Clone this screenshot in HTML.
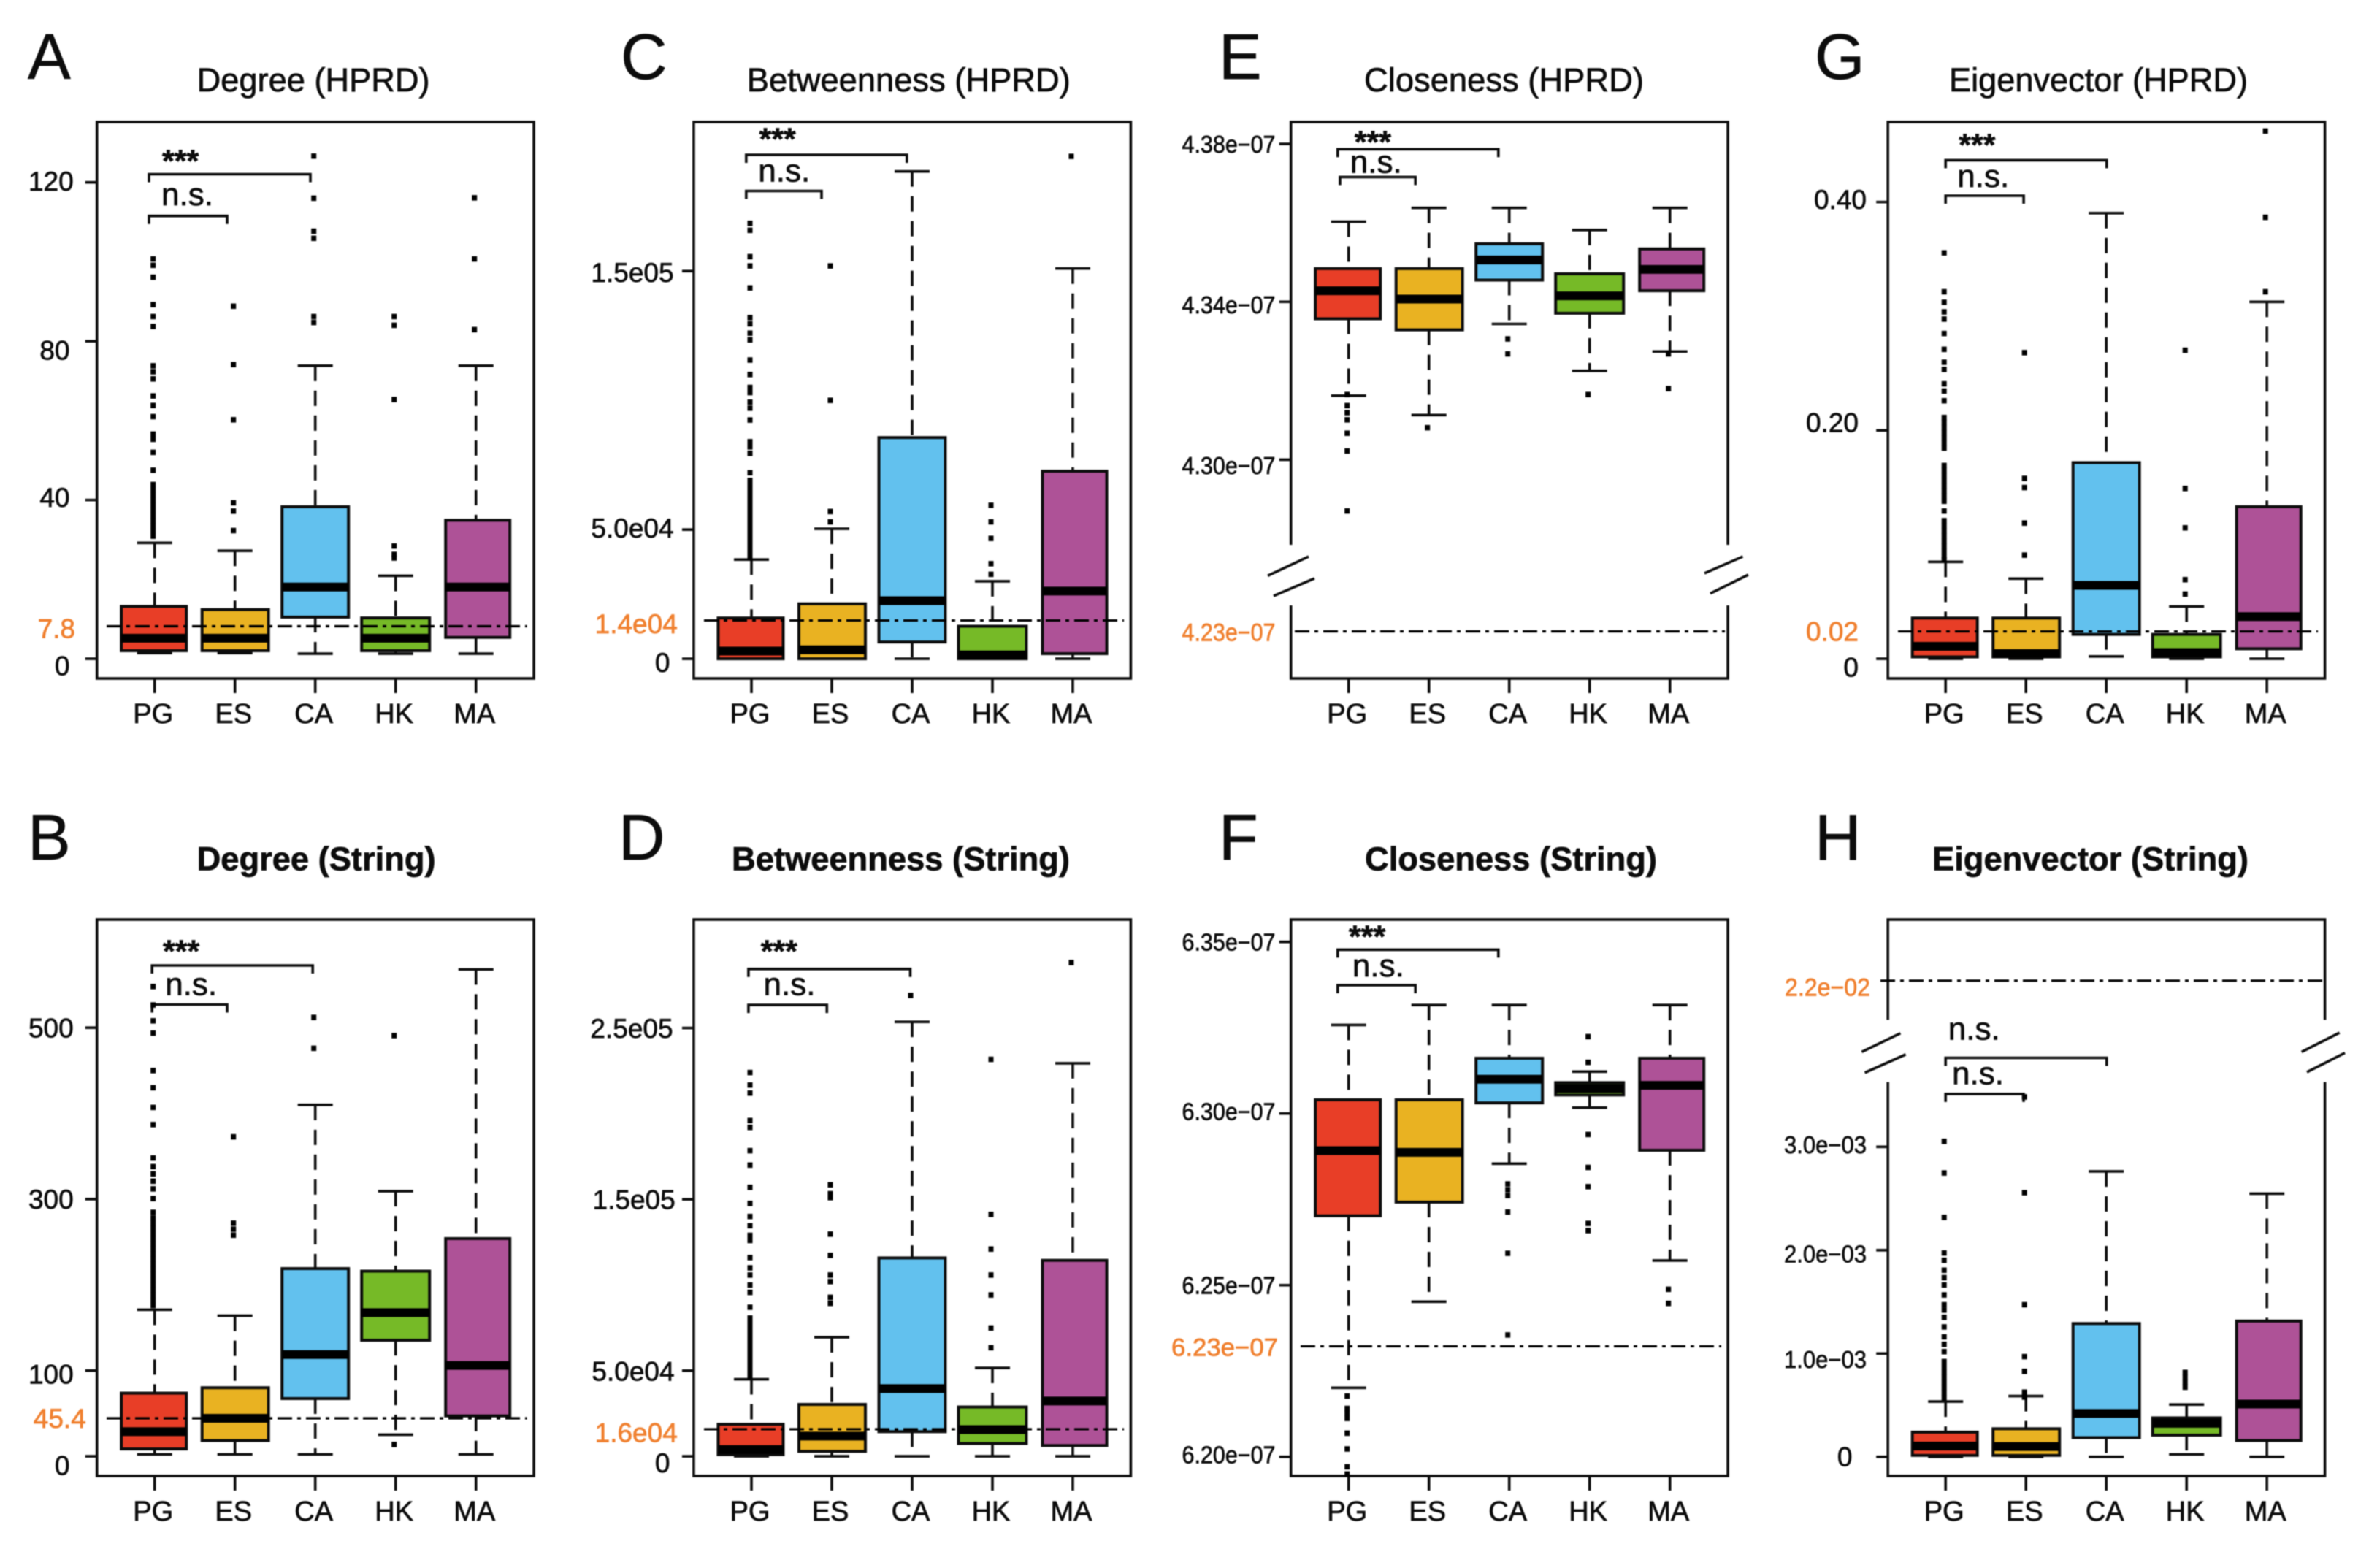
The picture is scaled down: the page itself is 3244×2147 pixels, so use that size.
<!DOCTYPE html>
<html lang="en">
<head>
<meta charset="utf-8">
<title>Network centrality box plots</title>
<style>
  html, body { margin: 0; padding: 0; background: #fff; }
  #chart-canvas { display: block; font-family: "Liberation Sans", Arial, sans-serif; filter: blur(0.8px); }
  #chart-canvas text { stroke: currentColor; stroke-width: 0.7px; }
</style>
</head>
<body>
<svg id="chart-canvas" xmlns="http://www.w3.org/2000/svg" width="3244" height="2147" viewBox="0 0 3244 2147">
  <rect x="0" y="0" width="3244" height="2147" fill="#fff"></rect>
</svg>
<script>
/* ---------- shared categories ---------- */
const categories = ['PG', 'ES', 'CA', 'HK', 'MA'];

/* ---------- A: Degree (HPRD) ---------- */
const degreeHprdTicks = [120, 80, 40, 0];
const degreeHprdTickLabels = ['120', '80', '40', '0'];
const degreeHprdRef = 8.2;
const degreeHprdRefLabel = '7.8';
const degreeHprdWhiskerHigh = [29.2, 27.2, 73.8, 20.9, 73.8];
const degreeHprdQ3 = [13.2, 12.4, 38.3, 10.3, 34.9];
const degreeHprdMedian = [5.2, 5.2, 18.1, 5.2, 18.1];
const degreeHprdQ1 = [2.05, 2.05, 10.5, 2.05, 5.4];
const degreeHprdWhiskerLow = [1.45, 1.45, 1.3, 1.3, 1.3];
const degreeHprdOutliers = [
  [100.7, 99.1, 96.1, 89.2, 86.2, 83.7, 73.8, 72.3, 70.5, 66.2, 63.8, 61, 56.6, 55.3, 52, 47.5, 43.9, 42.6, 41.3, 40, 38.7, 37.4, 36.1, 34.8, 33.5, 32.2, 30.9],
  [88.8, 74.1, 60.2, 39.3, 37.2, 32.3],
  [126.6, 116, 107.7, 105.9, 86.2, 84.7],
  [86.2, 84, 65.3, 28.4, 26.3, 25.4],
  [116.1, 100.7, 82.9]
];

/* ---------- B: Degree (String) ---------- */
const degreeStringTicks = [500, 300, 100, 0];
const degreeStringTickLabels = ['500', '300', '100', '0'];
const degreeStringRef = 44.4;
const degreeStringRefLabel = '45.4';
const degreeStringWhiskerHigh = [171, 164, 410, 309.3, 568];
const degreeStringQ3 = [73.7, 80, 219, 216, 254];
const degreeStringMedian = [28.8, 44.4, 118.7, 167.6, 106];
const degreeStringQ1 = [8.6, 18.4, 67.4, 135.4, 47.2];
const degreeStringWhiskerLow = [2.3, 2.3, 2.3, 25.3, 2.3];
const degreeStringOutliers = [
  [548, 526.5, 508, 493.7, 450, 430, 407, 387, 348, 338, 329.5, 321, 312, 300.7, 284.6, 278, 272, 266, 260, 254, 248, 242, 236, 230, 224, 218, 212, 206, 200, 194, 188, 182, 176],
  [372.7, 272, 265, 258],
  [512, 476],
  [490.8, 13.8],
  []
];

/* ---------- C: Betweenness (HPRD), values in units of 1e4 ---------- */
const betweennessHprdTicks = [15, 5, 0];
const betweennessHprdTickLabels = ['1.5e05', '5.0e04', '0'];
const betweennessHprdRef = 1.485;
const betweennessHprdRefLabel = '1.4e04';
const betweennessHprdWhiskerHigh = [3.84, 5.03, 18.86, 3.0, 15.1];
const betweennessHprdQ3 = [1.58, 2.13, 8.56, 1.26, 7.26];
const betweennessHprdMedian = [0.3, 0.35, 2.25, 0.15, 2.62];
const betweennessHprdQ1 = [0, 0, 0.65, 0, 0.2];
const betweennessHprdWhiskerLow = [0, 0, 0, 0, 0];
const betweennessHprdOutliers = [
  [16.85, 16.58, 15.56, 15.2, 14.35, 13.2, 12.96, 12.6, 12.34, 11.56, 11, 10.5, 10.3, 9.93, 9.7, 9.24, 8.4, 8.2, 7.95, 7.2, 6.9, 6.7, 6.5, 6.3, 6.1, 5.9, 5.7, 5.5, 5.3, 5.1, 4.9, 4.7, 4.5, 4.3, 4.1, 3.9],
  [15.2, 10.0, 5.7, 5.3],
  [],
  [5.94, 5.3, 4.66, 3.68, 3.27],
  [19.44]
];

/* ---------- D: Betweenness (String), values in units of 1e4 ---------- */
const betweennessStringTicks = [25, 15, 5, 0];
const betweennessStringTickLabels = ['2.5e05', '1.5e05', '5.0e04', '0'];
const betweennessStringRef = 1.585;
const betweennessStringRefLabel = '1.6e04';
const betweennessStringWhiskerHigh = [4.5, 6.95, 25.36, 5.16, 22.94];
const betweennessStringQ3 = [1.87, 3.03, 11.58, 2.88, 11.44];
const betweennessStringMedian = [0.4, 1.18, 3.95, 1.56, 3.23];
const betweennessStringQ1 = [0.1, 0.29, 1.44, 0.75, 0.63];
const betweennessStringWhiskerLow = [0, 0, 0, 0, 0];
const betweennessStringOutliers = [
  [22.4, 21.67, 21.2, 19.6, 19.2, 17.84, 17, 15.7, 14.76, 14, 13.46, 12.9, 12.6, 11.6, 11, 10.58, 10, 9.57, 8.7, 8.07, 7.84, 7.55, 7.26, 6.97, 6.69, 6.4, 6.11, 5.82, 5.53, 5.25, 4.96, 4.67],
  [15.85, 15.33, 15.1, 12.97, 11.73, 10.58, 10.2, 9.28, 8.93],
  [26.9],
  [23.17, 14.12, 12.1, 10.58, 9.42, 7.49, 6.34],
  [28.82]
];

/* ---------- E: Closeness (HPRD), values in units of 1e-7 ---------- */
const closenessHprdTicks = [4.38, 4.34, 4.30];
const closenessHprdTickLabels = ['4.38e\u221207', '4.34e\u221207', '4.30e\u221207'];
const closenessHprdRef = 4.23;
const closenessHprdRefLabel = '4.23e\u221207';
const closenessHprdWhiskerHigh = [4.3603, 4.3638, 4.3638, 4.3582, 4.3638];
const closenessHprdQ3 = [4.3484, 4.3484, 4.3547, 4.3471, 4.3534];
const closenessHprdMedian = [4.3428, 4.3407, 4.3506, 4.3415, 4.3482];
const closenessHprdQ1 = [4.3357, 4.3329, 4.3455, 4.3371, 4.3428];
const closenessHprdWhiskerLow = [4.3162, 4.3113, 4.3344, 4.3225, 4.3274];
const closenessHprdOutliers = [
  [4.3165, 4.3137, 4.3119, 4.3101, 4.3067, 4.3022, 4.287],
  [4.3081],
  [4.3306, 4.3268],
  [4.3165],
  [4.3268, 4.318]
];

/* ---------- F: Closeness (String), values in units of 1e-7 ---------- */
const closenessStringTicks = [6.35, 6.30, 6.25, 6.20];
const closenessStringTickLabels = ['6.35e\u221207', '6.30e\u221207', '6.25e\u221207', '6.20e\u221207'];
const closenessStringRef = 6.2322;
const closenessStringRefLabel = '6.23e\u221207';
const closenessStringWhiskerHigh = [6.3258, 6.3316, 6.3316, 6.3122, 6.3316];
const closenessStringQ3 = [6.304, 6.304, 6.3161, 6.309, 6.3161];
const closenessStringMedian = [6.2892, 6.2887, 6.31, 6.3073, 6.3082];
const closenessStringQ1 = [6.2702, 6.2742, 6.3031, 6.3054, 6.2893];
const closenessStringWhiskerLow = [6.2201, 6.2452, 6.2854, 6.3017, 6.2572];
const closenessStringOutliers = [
  [6.2177, 6.2141, 6.2127, 6.2112, 6.2069, 6.2023, 6.1971, 6.195],
  [],
  [6.2795, 6.2778, 6.2761, 6.2713, 6.2593, 6.2355],
  [6.3224, 6.3149, 6.2939, 6.2843, 6.2787, 6.268, 6.2659],
  [6.2488, 6.2447]
];

/* ---------- G: Eigenvector (HPRD) ---------- */
const eigenHprdTicks = [0.40, 0.20, 0];
const eigenHprdTickLabels = ['0.40', '0.20', '0'];
const eigenHprdRef = 0.024;
const eigenHprdRefLabel = '0.02';
const eigenHprdWhiskerHigh = [0.0849, 0.0702, 0.3903, 0.0458, 0.3126];
const eigenHprdQ3 = [0.0357, 0.0357, 0.1718, 0.0214, 0.1332];
const eigenHprdMedian = [0.0109, 0.0046, 0.0643, 0.0055, 0.037];
const eigenHprdQ1 = [0.0017, 0.0017, 0.0214, 0.0017, 0.0088];
const eigenHprdWhiskerLow = [0, 0, 0.0021, 0, 0];
const eigenHprdOutliers = [
  [0.3555, 0.3214, 0.3122, 0.3038, 0.2975, 0.2849, 0.271, 0.2597, 0.2534, 0.2408, 0.2345, 0.226, 0.2113, 0.207, 0.2025, 0.198, 0.1935, 0.189, 0.1845, 0.1693, 0.165, 0.1605, 0.156, 0.1515, 0.147, 0.1425, 0.138, 0.1294, 0.121, 0.1165, 0.112, 0.1075, 0.103, 0.0985, 0.094, 0.0895, 0.087],
  [0.2681, 0.158, 0.15, 0.1189, 0.0908],
  [],
  [0.2702, 0.1492, 0.1147, 0.0693, 0.0567],
  [0.4622, 0.3866, 0.3214]
];

/* ---------- H: Eigenvector (String), values in units of 1e-3 ---------- */
const eigenStringTicks = [3, 2, 1, 0];
const eigenStringTickLabels = ['3.0e\u221203', '2.0e\u221203', '1.0e\u221203', '0'];
const eigenStringRef = 22;
const eigenStringRefLabel = '2.2e\u221202';
const eigenStringWhiskerHigh = [0.535, 0.588, 2.762, 0.506, 2.547];
const eigenStringQ3 = [0.239, 0.272, 1.29, 0.377, 1.314];
const eigenStringMedian = [0.105, 0.1, 0.42, 0.325, 0.511];
const eigenStringQ1 = [0.014, 0.014, 0.186, 0.21, 0.158];
const eigenStringWhiskerLow = [0, 0, 0, 0.024, 0];
const eigenStringOutliers = [
  [3.053, 2.747, 2.317, 1.973, 1.902, 1.806, 1.734, 1.663, 1.567, 1.472, 1.42, 1.35, 1.257, 1.161, 1.089, 1.018, 0.922, 0.87, 0.82, 0.77, 0.72, 0.67, 0.62, 0.57],
  [3.483, 2.556, 1.472, 0.97, 0.827, 0.626, 0.578],
  [],
  [0.817, 0.769, 0.721, 0.674],
  []
];

/* ---------- layout (no data below this line) ---------- */
const boxColors = ['#E83E27', '#E9B222', '#62C1EE', '#76BA27', '#AE5297'];
const boxOffsets = [-1, 0.5, 0, 0, 2.5];
const boxWidths = [89, 91, 91, 93, 88];
const refColor = '#F0802F';
const inkColor = '#0c0c0c';

const panels = [
  { id: 'degree-hprd', letter: 'A', letterX: 38, letterY: 108, title: 'Degree (HPRD)', bold: false, titleX: 269.6, titleLen: 319, titleY: 125,
    left: 132.7, top: 167, anchorValue: 0, anchorY: 902.1, ppu: 5.437,
    ticks: degreeHprdTicks, tickLabels: degreeHprdTickLabels, labelRight: [100.7, 95.5, 95.5, 95.5], labelDy: [-2, 12, -4, 9], labelSize: 37,
    ref: degreeHprdRef, refLabel: degreeHprdRefLabel, refFrom: 146, refTo: 721.6, refRight: 103, refDy: 3,
    whiskerHigh: degreeHprdWhiskerHigh, q3: degreeHprdQ3, median: degreeHprdMedian, q1: degreeHprdQ1, whiskerLow: degreeHprdWhiskerLow, outliers: degreeHprdOutliers,
    brackets: [[204, 425, 238.5], [204, 311, 295.7]], notes: [['***', 222, 235], ['n.s.', 221, 281]] },
  { id: 'degree-string', letter: 'B', letterX: 38, letterY: 1177, title: 'Degree (String)', bold: true, titleX: 269.6, titleLen: 327, titleY: 1191.6,
    left: 132.7, top: 1259, anchorValue: 0, anchorY: 1994.1, ppu: 1.1738,
    ticks: degreeStringTicks, tickLabels: degreeStringTickLabels, labelRight: [100.7, 100.7, 100.7, 95.5], labelDy: [0, 0, 4.7, 12], labelSize: 37,
    ref: degreeStringRef, refLabel: degreeStringRefLabel, refFrom: 146, refTo: 721.6, refRight: 117.8, refDy: 0,
    whiskerHigh: degreeStringWhiskerHigh, q3: degreeStringQ3, median: degreeStringMedian, q1: degreeStringQ1, whiskerLow: degreeStringWhiskerLow, outliers: degreeStringOutliers,
    brackets: [[208.2, 428.2, 1322], [208.2, 311, 1375.5]], notes: [['***', 223, 1317], ['n.s.', 226.2, 1362.6]] },
  { id: 'betweenness-hprd', letter: 'C', letterX: 850, letterY: 108, title: 'Betweenness (HPRD)', bold: false, titleX: 1022.8, titleLen: 443, titleY: 125,
    left: 950, top: 167, anchorValue: 0, anchorY: 902.1, ppu: 35.39,
    ticks: betweennessHprdTicks, tickLabels: betweennessHprdTickLabels, labelRight: [922.6, 922.6, 917.4], labelDy: [1.3, -2.6, 4.6], labelSize: 37,
    ref: betweennessHprdRef, refLabel: betweennessHprdRefLabel, refFrom: 964, refTo: 1539, refRight: 927.8, refDy: 4.6,
    whiskerHigh: betweennessHprdWhiskerHigh, q3: betweennessHprdQ3, median: betweennessHprdMedian, q1: betweennessHprdQ1, whiskerLow: betweennessHprdWhiskerLow, outliers: betweennessHprdOutliers,
    brackets: [[1021.8, 1241.8, 212], [1021.8, 1125, 261.5]], notes: [['***', 1039.6, 205], ['n.s.', 1038.3, 248.4]] },
  { id: 'betweenness-string', letter: 'D', letterX: 847, letterY: 1177, title: 'Betweenness (String)', bold: true, titleX: 1002, titleLen: 463, titleY: 1191.6,
    left: 950, top: 1259, anchorValue: 0, anchorY: 1994.1, ppu: 23.46,
    ticks: betweennessStringTicks, tickLabels: betweennessStringTickLabels, labelRight: [921.6, 924.7, 923.6, 917.4], labelDy: [0, 0, 0.7, 8.8], labelSize: 37,
    ref: betweennessStringRef, refLabel: betweennessStringRefLabel, refFrom: 964, refTo: 1539, refRight: 927.8, refDy: 4.7,
    whiskerHigh: betweennessStringWhiskerHigh, q3: betweennessStringQ3, median: betweennessStringMedian, q1: betweennessStringQ1, whiskerLow: betweennessStringWhiskerLow, outliers: betweennessStringOutliers,
    brackets: [[1024.9, 1246.5, 1326.8], [1024.9, 1132.3, 1376.1]], notes: [['***', 1041.7, 1317], ['n.s.', 1045.5, 1362.6]] },
  { id: 'closeness-hprd', letter: 'E', letterX: 1669, letterY: 108, title: 'Closeness (HPRD)', bold: false, titleX: 1868, titleLen: 383, titleY: 125,
    left: 1767.7, top: 167, anchorValue: 4.30, anchorY: 629.4, ppu: 5404, labelLength: 128, refLength: 128,
    ticks: closenessHprdTicks, tickLabels: closenessHprdTickLabels, labelRight: [1746.5, 1746.5, 1746.5], labelDy: [0, 4, 8], labelSize: 33,
    ref: closenessHprdRef, refLabel: closenessHprdRefLabel, refFrom: 1773, refTo: 2362, refRight: 1746.5, refDy: 0,
    breakValue: 4.28, breakSide: -1, breakShift: -143.2, band: [746, 829],
    breakMarks: [[1736, 788.4, 1792, 762], [1744, 816, 1800, 792], [2334, 785, 2386.5, 762], [2342, 812.6, 2394, 787]],
    whiskerHigh: closenessHprdWhiskerHigh, q3: closenessHprdQ3, median: closenessHprdMedian, q1: closenessHprdQ1, whiskerLow: closenessHprdWhiskerLow, outliers: closenessHprdOutliers,
    brackets: [[1831.8, 2051.8, 204.3], [1834.9, 1938.2, 242.4]], notes: [['***', 1854.8, 209], ['n.s.', 1848.8, 236.5]] },
  { id: 'closeness-string', letter: 'F', letterX: 1669, letterY: 1177, title: 'Closeness (String)', bold: true, titleX: 1869, titleLen: 400, titleY: 1191.6,
    left: 1767.7, top: 1259, anchorValue: 6.20, anchorY: 1994.8, ppu: 4701, labelLength: 128, refLength: 146,
    ticks: closenessStringTicks, tickLabels: closenessStringTickLabels, labelRight: [1746.5, 1746.5, 1746.5, 1746.5], labelDy: [0, -3, 0, -3], labelSize: 33,
    ref: closenessStringRef, refLabel: closenessStringRefLabel, refFrom: 1781, refTo: 2357, refRight: 1750, refDy: 0,
    whiskerHigh: closenessStringWhiskerHigh, q3: closenessStringQ3, median: closenessStringMedian, q1: closenessStringQ1, whiskerLow: closenessStringWhiskerLow, outliers: closenessStringOutliers,
    brackets: [[1831.8, 2051.8, 1300.4], [1831.8, 1938.2, 1349]], notes: [['***', 1847, 1297], ['n.s.', 1851.9, 1337]] },
  { id: 'eigenvector-hprd', letter: 'G', letterX: 2485, letterY: 108, title: 'Eigenvector (HPRD)', bold: false, titleX: 2669, titleLen: 409, titleY: 125,
    left: 2585.2, top: 167, anchorValue: 0, anchorY: 902.1, ppu: 1563.7,
    ticks: eigenHprdTicks, tickLabels: eigenHprdTickLabels, labelRight: [2556, 2545, 2545], labelDy: [-4, -11, 11], labelSize: 37,
    ref: eigenHprdRef, refLabel: eigenHprdRefLabel, refFrom: 2599, refTo: 3174, refRight: 2545, refDy: 0,
    whiskerHigh: eigenHprdWhiskerHigh, q3: eigenHprdQ3, median: eigenHprdMedian, q1: eigenHprdQ1, whiskerLow: eigenHprdWhiskerLow, outliers: eigenHprdOutliers,
    brackets: [[2664.2, 2884.8, 219.4], [2664.2, 2771.1, 268]], notes: [['***', 2682.3, 213], ['n.s.', 2680.3, 256.2]] },
  { id: 'eigenvector-string', letter: 'H', letterX: 2485, letterY: 1177, title: 'Eigenvector (String)', bold: true, titleX: 2646, titleLen: 433, titleY: 1191.6,
    left: 2585.2, top: 1259, anchorValue: 0, anchorY: 1994.8, ppu: 141.5, labelLength: 113, refLength: 117,
    ticks: eigenStringTicks, tickLabels: eigenStringTickLabels, labelRight: [2556, 2556, 2556, 2536.4], labelDy: [-3, 5, 8, 1], labelSize: 33,
    ref: eigenStringRef, refLabel: eigenStringRefLabel, refFrom: 2575, refTo: 3183, refRight: 2561, refDy: 8,
    breakValue: 5, breakSide: 1, breakShift: 2461, band: [1396.4, 1481.6],
    breakMarks: [[2549.4, 1440.4, 2602.4, 1414.7], [2553.6, 1468.8, 2609.6, 1443.8], [3151.7, 1440.4, 3203.6, 1414], [3159, 1468, 3211, 1441.7]],
    whiskerHigh: eigenStringWhiskerHigh, q3: eigenStringQ3, median: eigenStringMedian, q1: eigenStringQ1, whiskerLow: eigenStringWhiskerLow, outliers: eigenStringOutliers,
    brackets: [[2664.2, 2884.8, 1448.5], [2664.2, 2771, 1497.9]], notes: [['n.s.', 2667.8, 1423.5], ['n.s.', 2673, 1484.3]] }
];

const frameWidth = 598.4;
const frameHeight = 762;
const firstCenter = 79;
const centerStep = 110;
const lineWeight = 3.6;
const canvas = document.getElementById('chart-canvas');

function make(parent, tag, attrs, text) {
  const el = document.createElementNS('http://www.w3.org/2000/svg', tag);
  Object.keys(attrs).forEach(function (k) { el.setAttribute(k, attrs[k]); });
  if (text !== undefined) el.textContent = text;
  parent.appendChild(el);
  return el;
}

/* axis function: data value to pixel, with optional axis break */
function axisY(p, v) {
  let y = p.anchorY - (v - p.anchorValue) * p.ppu;
  if (p.breakSide && (v - p.breakValue) * p.breakSide > 0) y += p.breakShift;
  return y;
}
function axisX(p, i) {
  return p.left + firstCenter + centerStep * i;
}

panels.forEach(function (p) {
  const bottom = p.top + frameHeight;
  const right = p.left + frameWidth;

  const g = make(canvas, 'g', {});
  
  

  const letter = make(g, 'text', { x: p.letterX, y: p.letterY, 'font-size': 88, fill: inkColor, color: inkColor }, p.letter);
  
  

  const title = make(g, 'text', { x: p.titleX, y: p.titleY, 'font-size': 45, 'font-weight': p.bold ? 700 : 400, fill: inkColor, color: inkColor, textLength: p.titleLen, lengthAdjust: 'spacingAndGlyphs' }, p.title);
  
  

  const frame = make(g, 'rect', { x: p.left, y: p.top, width: frameWidth, height: frameHeight, fill: 'none', stroke: inkColor, 'stroke-width': lineWeight });
  
  

  if (p.band) {
    const band = make(g, 'rect', { x: p.left - 6, y: p.band[0], width: frameWidth + 12, height: p.band[1] - p.band[0], fill: '#fff' });
    
    
    p.breakMarks.forEach(function (m) {
      const mark = make(g, 'line', { x1: m[0], y1: m[1], x2: m[2], y2: m[3], stroke: inkColor, 'stroke-width': lineWeight });
      
      
    });
  }

  /* y ticks and labels */
  p.ticks.forEach(function (t, i) {
    const y = axisY(p, t);
    const tick = make(g, 'line', { x1: p.left - 16, x2: p.left, y1: y, y2: y, stroke: inkColor, 'stroke-width': lineWeight });
    
    
    const isLong = p.labelLength && p.tickLabels[i] !== '0';
    const attrs = { y: y + p.labelDy[i] + p.labelSize * 0.358, 'font-size': p.labelSize + (isLong ? 0 : 4 * (p.labelLength ? 1 : 0)), fill: inkColor, color: inkColor };
    if (isLong) {
      attrs.x = p.labelRight[i] - p.labelLength;
      attrs.textLength = p.labelLength;
      attrs.lengthAdjust = 'spacingAndGlyphs';
    } else {
      attrs.x = p.labelRight[i];
      attrs['text-anchor'] = 'end';
    }
    const lab = make(g, 'text', attrs, p.tickLabels[i]);
    
    
  });

  /* x ticks and labels */
  categories.forEach(function (c, i) {
    const x = axisX(p, i);
    const tick = make(g, 'line', { x1: x, x2: x, y1: bottom, y2: bottom + 20, stroke: inkColor, 'stroke-width': lineWeight });
    
    
    const lab = make(g, 'text', { x: x - 2, y: bottom + 61, 'font-size': 38, 'text-anchor': 'middle', fill: inkColor, color: inkColor }, c);
    
    
  });

  /* significance brackets */
  p.brackets.forEach(function (b) {
    const path = make(g, 'path', { d: 'M' + b[0] + ' ' + (b[2] + 11) + 'V' + b[2] + 'H' + b[1] + 'V' + (b[2] + 11), fill: 'none', stroke: inkColor, 'stroke-width': lineWeight });
    
    
  });
  p.notes.forEach(function (n) {
    const stars = n[0] === '***';
    const note = make(g, 'text', { x: n[1], y: n[2], 'font-size': stars ? 43 : 44, 'font-weight': stars ? 700 : 400, fill: inkColor, color: inkColor }, n[0]);
    
    
  });

  /* box plots */
  categories.forEach(function (c, i) {
    const x = axisX(p, i);
    const bx = x + boxOffsets[i] - boxWidths[i] / 2;
    const name = c.toLowerCase();

    const group = make(g, 'g', {});
    
    

    const yHi = axisY(p, p.whiskerHigh[i]);
    const yQ3 = axisY(p, p.q3[i]);
    const yMed = axisY(p, p.median[i]);
    const yQ1 = axisY(p, p.q1[i]);
    const yLo = axisY(p, p.whiskerLow[i]);

    const upper = make(group, 'line', { x1: x, x2: x, y1: yHi, y2: yQ3, stroke: inkColor, 'stroke-width': lineWeight, 'stroke-dasharray': '21 13' });
    
    
    const lower = make(group, 'line', { x1: x, x2: x, y1: yQ1, y2: yLo, stroke: inkColor, 'stroke-width': lineWeight, 'stroke-dasharray': '21 13' });
    
    

    const capHi = make(group, 'line', { x1: x - 24, x2: x + 24, y1: yHi, y2: yHi, stroke: inkColor, 'stroke-width': lineWeight });
    
    
    const capLo = make(group, 'line', { x1: x - 24, x2: x + 24, y1: yLo, y2: yLo, stroke: inkColor, 'stroke-width': lineWeight });
    
    

    const box = make(group, 'rect', { x: bx, y: yQ3, width: boxWidths[i], height: Math.max(0, yQ1 - yQ3), fill: boxColors[i], stroke: inkColor, 'stroke-width': 4 });
    
    

    const med = make(group, 'line', { x1: bx, x2: bx + boxWidths[i], y1: yMed, y2: yMed, stroke: '#000', 'stroke-width': 12 });
    
    

    p.outliers[i].forEach(function (v) {
      const dot = make(group, 'rect', { x: x - 5.5, y: axisY(p, v) - 3.75, width: 7, height: 7.5, fill: '#000' });
      
      
    });
  });

  /* reference line and label */
  const yRef = axisY(p, p.ref);
  const refLine = make(g, 'line', { x1: p.refFrom, x2: p.refTo, y1: yRef, y2: yRef, stroke: '#000', 'stroke-width': 3.2, 'stroke-dasharray': '20 7 5 7' });
  
  

  const refAttrs = { y: yRef + p.refDy + 12.9, 'font-size': 37, fill: refColor, color: refColor };
  if (p.refLength) {
    refAttrs.x = p.refRight - p.refLength;
    refAttrs.textLength = p.refLength;
    refAttrs.lengthAdjust = 'spacingAndGlyphs';
    refAttrs['font-size'] = 34;
  } else {
    refAttrs.x = p.refRight;
    refAttrs['text-anchor'] = 'end';
  }
  const refText = make(g, 'text', refAttrs, p.refLabel);
  
  
});
</script>
</body>
</html>
